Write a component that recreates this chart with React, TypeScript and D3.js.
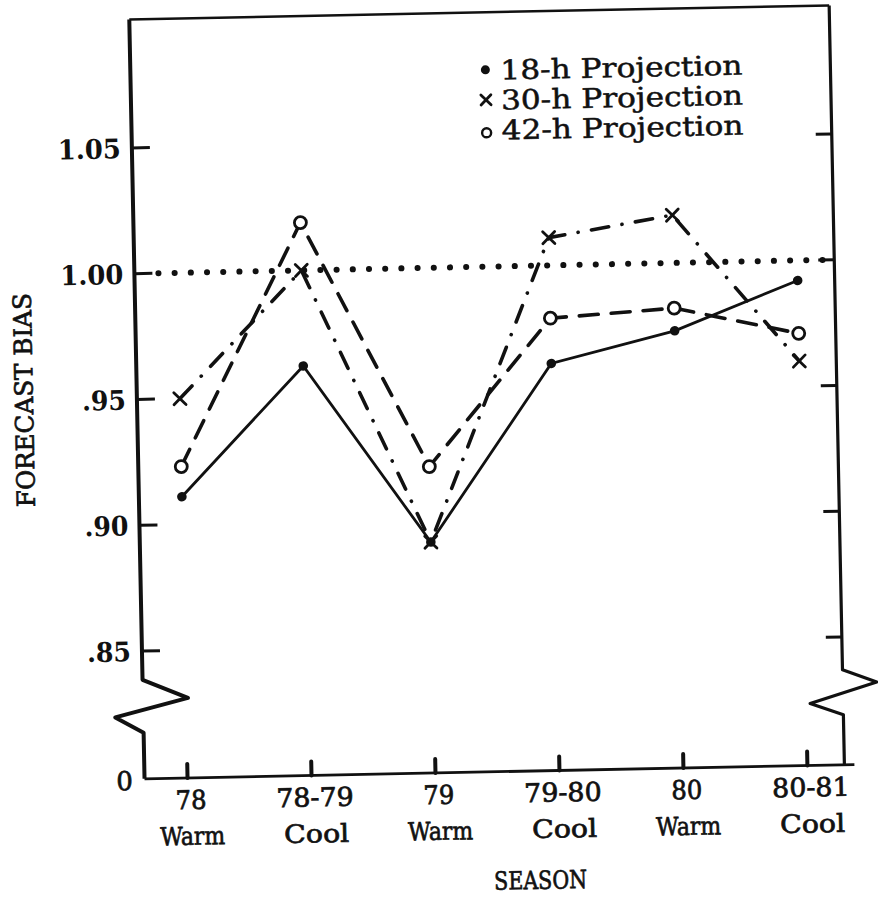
import React from "react";
import * as d3 from "d3";

const seasonYears = ["78", "78-79", "79", "79-80", "80", "80-81"];
const seasonKinds = ["Warm", "Cool", "Warm", "Cool", "Warm", "Cool"];
const proj18 = [0.911, 0.962, 0.891, 0.961, 0.973, 0.992];
const proj30 = [0.95, 1.0, 0.891, 1.011, 1.019, 0.96];
const proj42 = [0.923, 1.019, 0.921, 0.979, 0.982, 0.971];
const yTicks = [0.85, 0.9, 0.95, 1.0, 1.05];
const yTickLabels = [".85", ".90", ".95", "1.00", "1.05"];
const legendLabels = ["18-h Projection", "30-h Projection", "42-h Projection"];
const referenceValue = 1.0;

const W = 878;
const H = 897;
const L = 137;
const R = 837;
const T = 12.5;
const B = 772;
const FONT = "'DejaVu Serif', 'Liberation Serif', serif";
const INK = "#111";

export default function App() {
  const x = d3.scalePoint<string>().domain(seasonYears).range([180, 800]);
  const y = d3.scaleLinear().domain([0.85, 1.05]).range([644.2, 141]);

  const line = d3
    .line<number>()
    .x((_, i) => x(seasonYears[i]) as number)
    .y((d) => y(d));

  const leftAxisPath = `M${L},${T} L${L},673 L182,692 L109,710 L${L},726 L${L},${B}`;
  const rightAxisPath = `M${R},${T} L${R},677 L871,690 L804,710 L${R},722 L${R},${B}`;

  // typewriter pitch: about 15.5px per character
  const tl = (s: string) => s.length * 15.5;

  const cross = (cx: number, cy: number, s: number, key: string) => (
    <g key={key} stroke={INK} strokeWidth={2.8} strokeLinecap="round">
      <line x1={cx - s} y1={cy - s} x2={cx + s} y2={cy + s} />
      <line x1={cx - s} y1={cy + s} x2={cx + s} y2={cy - s} />
    </g>
  );

  const ink = { fill: INK, stroke: INK, strokeWidth: 0.7 };

  return (
    <svg
      width={W}
      height={H}
      style={{ position: "absolute", left: 0, top: 0, background: "#fff" }}
      xmlns="http://www.w3.org/2000/svg"
    >
      <rect width={W} height={H} fill="#fff" />
      <g transform="rotate(-1.15, 480, 400)">
        {/* frame */}
        <line x1={L} y1={T} x2={R} y2={T} stroke={INK} strokeWidth={2.5} />
        <line x1={L} y1={B} x2={R + 10} y2={B} stroke={INK} strokeWidth={2.8} />
        <path d={leftAxisPath} fill="none" stroke={INK} strokeWidth={4} strokeLinejoin="round" />
        <path d={rightAxisPath} fill="none" stroke={INK} strokeWidth={3.2} strokeLinejoin="round" />

        {/* y ticks */}
        {yTicks.map((t, i) => (
          <g key={"yt" + i}>
            <line x1={L} x2={L + 18} y1={y(t)} y2={y(t)} stroke={INK} strokeWidth={3} />
            <line x1={R - 16} x2={R} y1={y(t)} y2={y(t)} stroke={INK} strokeWidth={3} />
            <text
              x={126}
              y={y(t) + 10}
              textAnchor="end"
              fontFamily={FONT}
              fontSize={27}
              fontWeight="bold"
              fill={INK}
              textLength={yTickLabels[i].length === 3 ? 44 : 63}
              lengthAdjust="spacingAndGlyphs"
            >
              {yTickLabels[i]}
            </text>
          </g>
        ))}
        <text x={117} y={783} textAnchor="middle" fontFamily={FONT} fontSize={26} {...ink}>
          0
        </text>

        {/* x ticks and labels */}
        {seasonYears.map((s, i) => {
          const px = x(s) as number;
          return (
            <g key={"xt" + i}>
              <line x1={px} x2={px} y1={B} y2={B - 14} stroke={INK} strokeWidth={4} strokeLinecap="round" />
              <text
                x={px + 3}
                y={803}
                textAnchor="middle"
                fontFamily={FONT}
                fontSize={26}
                {...ink}
                textLength={tl(s)}
                lengthAdjust="spacingAndGlyphs"
              >
                {s}
              </text>
              <text
                x={px + 4}
                y={839}
                textAnchor="middle"
                fontFamily={FONT}
                fontSize={25}
                {...ink}
                textLength={tl(seasonKinds[i]) + 3}
                lengthAdjust="spacingAndGlyphs"
              >
                {seasonKinds[i]}
              </text>
            </g>
          );
        })}

        {/* axis titles */}
        <text
          transform="translate(33,391) rotate(-90)"
          textAnchor="middle"
          fontFamily={FONT}
          fontSize={25}
          {...ink}
          textLength={214}
          lengthAdjust="spacingAndGlyphs"
        >
          FORECAST BIAS
        </text>
        <text
          x={531}
          y={890}
          textAnchor="middle"
          fontFamily={FONT}
          fontSize={25}
          {...ink}
          textLength={93}
          lengthAdjust="spacingAndGlyphs"
        >
          SEASON
        </text>

        {/* reference dotted line */}
        <line
          x1={L + 24}
          x2={R - 10}
          y1={y(referenceValue)}
          y2={y(referenceValue)}
          stroke={INK}
          strokeWidth={6}
          strokeLinecap="round"
          strokeDasharray="0.1 16.1"
        />

        {/* series lines */}
        <path d={line(proj18) as string} fill="none" stroke={INK} strokeWidth={2.8} />
        <path
          d={line(proj30) as string}
          fill="none"
          stroke={INK}
          strokeWidth={3.6}
          strokeLinecap="round"
          strokeDasharray="17.5 13.5 0.1 13.5"
        />
        <path
          d={line(proj42) as string}
          fill="none"
          stroke={INK}
          strokeWidth={3.6}
          strokeLinecap="round"
          strokeDasharray="19 13"
        />

        {/* markers */}
        {proj18.map((v, i) => (
          <circle key={"m18" + i} cx={x(seasonYears[i]) as number} cy={y(v)} r={4.8} fill={INK} />
        ))}
        {proj30.map((v, i) => cross(x(seasonYears[i]) as number, y(v), 6, "m30" + i))}
        {proj42.map((v, i) => (
          <circle
            key={"m42" + i}
            cx={x(seasonYears[i]) as number}
            cy={y(v)}
            r={6}
            fill="#fff"
            stroke={INK}
            strokeWidth={2.8}
          />
        ))}

        {/* legend */}
        {legendLabels.map((lab, i) => {
          const cy = 70 + i * 30;
          return (
            <g key={"lg" + i}>
              {i === 0 && <circle cx={492} cy={cy} r={4.5} fill={INK} />}
              {i === 1 && cross(492, cy, 5, "lgx")}
              {i === 2 && <circle cx={492} cy={cy + 3} r={4.5} fill="none" stroke={INK} strokeWidth={2.4} />}
              <text
                x={507}
                y={cy + 10}
                fontFamily={FONT}
                fontSize={27}
                fill={INK}
                stroke={INK}
                strokeWidth={0.5}
                textLength={242}
                lengthAdjust="spacingAndGlyphs"
              >
                {lab}
              </text>
            </g>
          );
        })}
      </g>
    </svg>
  );
}
